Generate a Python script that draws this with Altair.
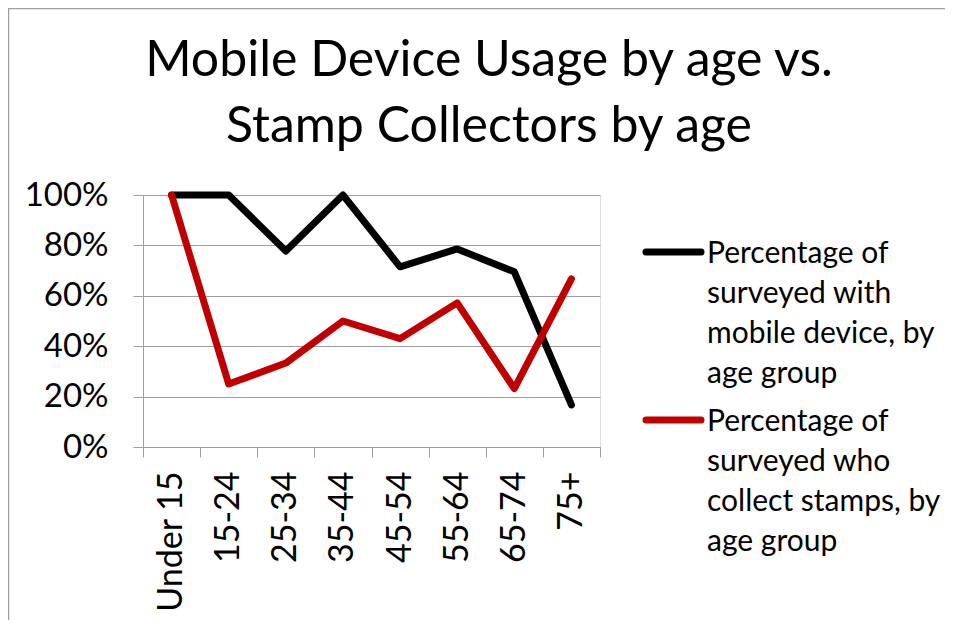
import altair as alt
import pandas as pd
import textwrap

# ---- data ----
age_groups = ["Under 15", "15-24", "25-34", "35-44", "45-54", "55-64", "65-74", "75+"]
mobile_pct = [1.00, 1.00, 0.778, 1.00, 0.715, 0.786, 0.695, 0.167]
stamp_pct = [1.00, 0.25, 0.333, 0.50, 0.43, 0.572, 0.232, 0.667]
series_names = [
    "Percentage of surveyed with mobile device, by age group",
    "Percentage of surveyed who collect stamps, by age group",
]
series_colors = ["#000000", "#C00000"]
y_ticks = [0, 0.2, 0.4, 0.6, 0.8, 1.0]
title_lines = ["Mobile Device Usage by age vs.", "Stamp Collectors by age"]

rows = []
for order, (name, vals) in enumerate(zip(series_names, [mobile_pct, stamp_pct])):
    for a, v in zip(age_groups, vals):
        rows.append({"age": a, "series": name, "pct": v, "order": order})
df = pd.DataFrame(rows)

FONT = "Lato"
GRAY = "#a0a0a0"
W, H = 457, 252
PAD_L, PAD_T = 135, 187

color_scale = alt.Scale(domain=series_names, range=series_colors)

lines = alt.Chart(df).mark_line(strokeWidth=7, strokeJoin="round", strokeCap="round").encode(
    x=alt.X(
        "age:N",
        sort=age_groups,
        bandPosition=0.5,
        scale=alt.Scale(type="band", domain=age_groups, paddingInner=0, paddingOuter=0),
        axis=alt.Axis(
            title=None,
            labelAngle=270,
            labelFont=FONT,
            labelFontSize=34,
            labelColor="#000000",
            labelPadding=14,
            tickBand="extent",
            tickSize=10,
            tickColor=GRAY,
            domainColor=GRAY,
            grid=False,
            labelLimit=400,
        ),
    ),
    y=alt.Y(
        "pct:Q",
        scale=alt.Scale(domain=[0, 1], nice=False),
        axis=alt.Axis(
            title=None,
            values=y_ticks,
            format=".0%",
            labelFont=FONT,
            labelFontSize=33,
            labelColor="#000000",
            labelPadding=25,
            tickSize=10,
            tickColor=GRAY,
            domainColor=GRAY,
            gridColor=GRAY,
            grid=True,
        ),
    ),
    color=alt.Color("series:N", scale=color_scale, legend=None),
    order=alt.Order("order:Q"),
)

layers = [lines]

# ---- manual legend (Excel style: wrapped labels to the right) ----
for i, (name, col) in enumerate(zip(series_names, series_colors)):
    y_sym = 57 + i * 168
    sym = alt.Chart(pd.DataFrame({"s": [name]})).mark_rule(
        color=col, strokeWidth=7, strokeCap="round"
    ).encode(x=alt.value(503), x2=alt.value(558), y=alt.value(y_sym))
    wrapped = "\n".join(textwrap.wrap(name, width=18))
    txt = alt.Chart(pd.DataFrame({"label": [wrapped]})).mark_text(
        align="left", baseline="alphabetic", font=FONT, fontSize=30,
        lineBreak="\n", lineHeight=40, color="#000000"
    ).encode(x=alt.value(564), y=alt.value(y_sym + 11), text="label:N")
    layers += [sym, txt]

# ---- chart title (two lines, centred on the whole chart like Excel) ----
title = alt.Chart(pd.DataFrame({"t": ["\n".join(title_lines)]})).mark_text(
    align="center", baseline="alphabetic", font=FONT, fontSize=50,
    lineBreak="\n", lineHeight=66, color="#000000"
).encode(x=alt.value(346), y=alt.value(-119), text="t:N")

# chart frame border
frame = alt.Chart(pd.DataFrame({"f": [0]})).mark_rect(
    fill=None, stroke=GRAY, strokeWidth=1.5
).encode(
    x=alt.value(-PAD_L + 0.5), x2=alt.value(1000),
    y=alt.value(-PAD_T + 0.5), y2=alt.value(1000),
)
layers = [frame, title] + layers

chart = alt.layer(*layers).properties(
    width=W,
    height=H,
    autosize=alt.AutoSizeParams(type="none"),
    padding={"left": PAD_L, "top": PAD_T, "right": 937 - PAD_L - W, "bottom": 612 - PAD_T - H},
).configure_view(stroke=None).configure(background="white")

chart.save("out.html", embed_options={"renderer": "svg", "actions": False})
